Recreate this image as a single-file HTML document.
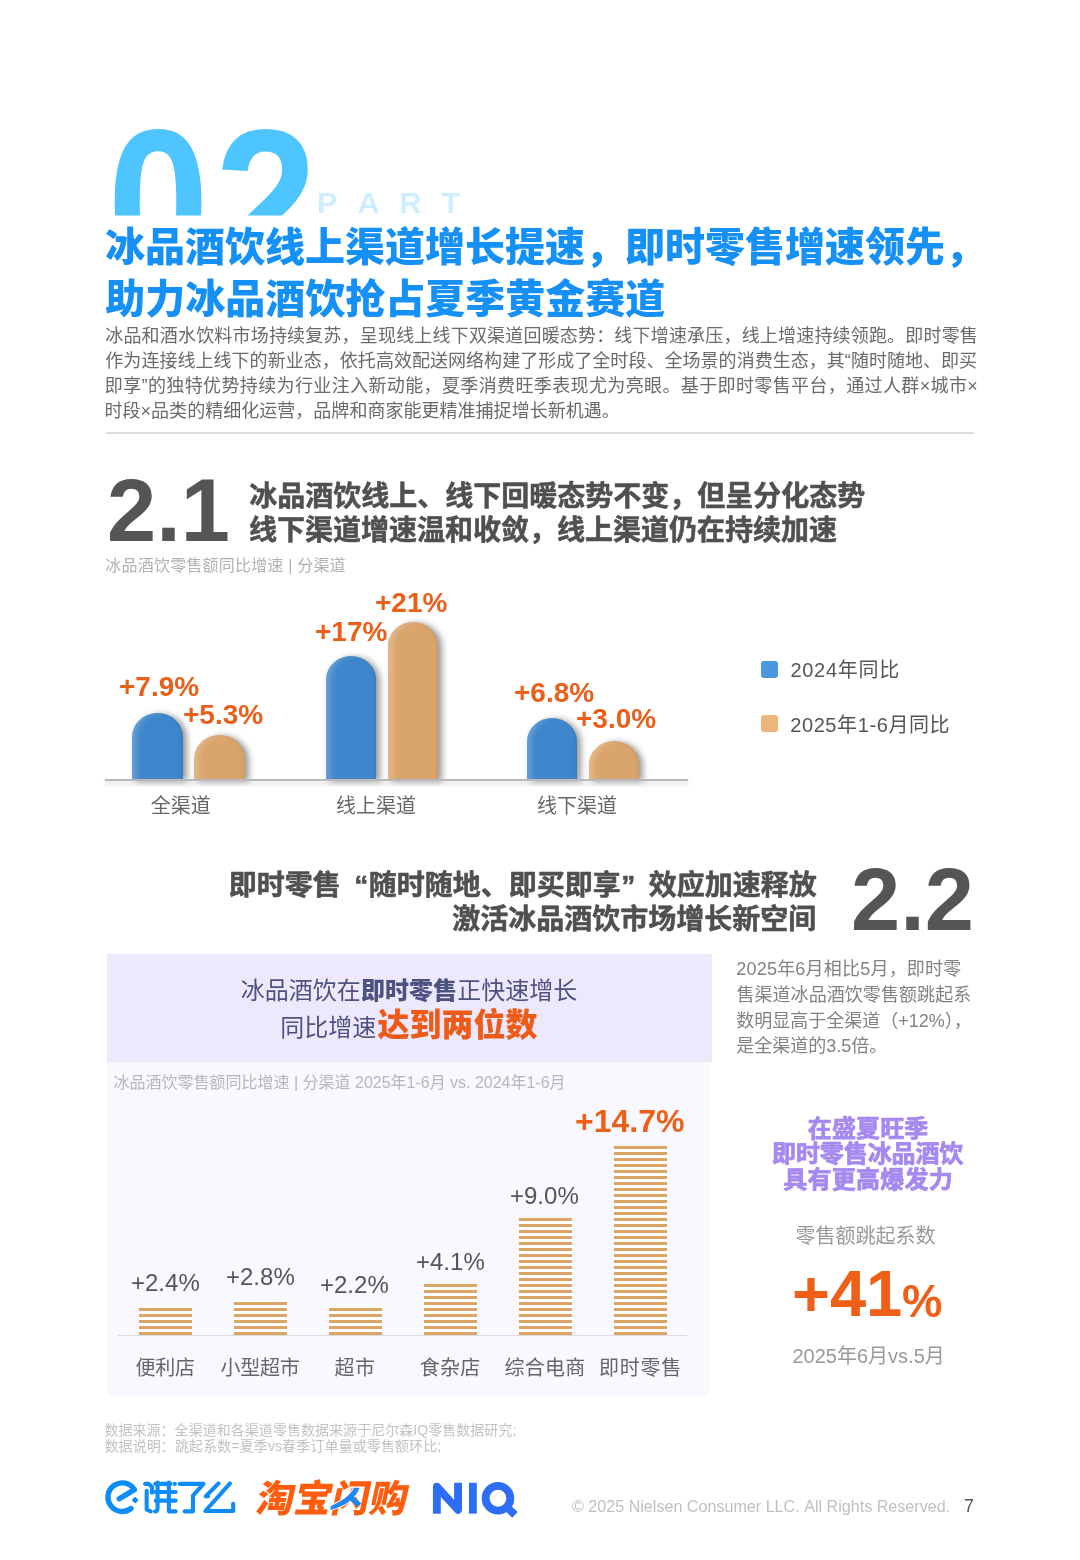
<!DOCTYPE html>
<html lang="zh-CN">
<head>
<meta charset="utf-8">
<title>PART 02 冰品酒饮线上渠道增长提速</title>
<style>
html,body{margin:0;padding:0;background:#fff}
body{width:1080px;height:1560px;position:relative;overflow:hidden;font-family:"Liberation Sans",sans-serif}
.bx{position:absolute}
.bar{border-radius:25.5px 25.5px 0 0/24px 24px 0 0;box-shadow:4px 1px 6px rgba(0,0,0,.4),inset 6px 0 6px -2px rgba(255,255,255,.24),inset -2px 0 3px rgba(0,0,0,.06)}
.b1{background:#3e86cb}
.b2{background:#daa56c}
.sb{background:repeating-linear-gradient(to top,#dca465 0,#dca465 2.7px,#fff 2.7px,#fff 6px)}
.t{position:absolute;white-space:nowrap;font-kerning:none;will-change:transform;font-family:"Liberation Sans",sans-serif;font-weight:400}
.t.b{font-weight:700}
.h{position:absolute;white-space:nowrap;overflow:hidden;color:transparent;line-height:1.2;font-family:"Liberation Sans",sans-serif}
#gl{position:absolute;left:0;top:0;width:1080px;height:1560px;overflow:visible}
#gl text{font-family:"Liberation Sans","Noto Sans CJK SC",sans-serif;font-weight:400}
</style>
</head>
<body>
<span class="h" style="left:112px;top:104px;font-size:190px;width:210px;height:112px;line-height:1">02</span>
<div class="bx" style="left:106px;top:432px;width:868px;height:1.5px;background:#dedede"></div>
<div class="bx bar b1" style="left:131.75px;top:712.5px;width:50.95px;height:67px;"></div>
<div class="bx bar b2" style="left:193.75px;top:735px;width:50.95px;height:44.5px;"></div>
<div class="bx bar b1" style="left:325.5px;top:655.5px;width:50.7px;height:124px;"></div>
<div class="bx bar b2" style="left:387.5px;top:622px;width:50.7px;height:157.5px;"></div>
<div class="bx bar b1" style="left:526.75px;top:718px;width:50.7px;height:61.5px;"></div>
<div class="bx bar b2" style="left:588.75px;top:740.75px;width:50.7px;height:38.75px;"></div>
<div class="bx" style="left:105px;top:778.5px;width:583px;height:2px;background:#b9b9b9;box-shadow:0 3px 4px rgba(0,0,0,.18)"></div>
<div class="bx" style="left:761px;top:661px;width:17px;height:17px;background:#4a97dc;border-radius:3px"></div>
<div class="bx" style="left:761px;top:715px;width:17px;height:17px;background:#edb47c;border-radius:3px"></div>
<div class="bx" style="left:106.75px;top:954.25px;width:605.25px;height:107.75px;background:#eee8fc"></div>
<div class="bx" style="left:106.75px;top:1062px;width:603.25px;height:334.25px;background:#f8f8fe"></div>
<div class="bx sb" style="left:138.75px;top:1304.5px;width:53px;height:30.1px;"></div>
<div class="bx sb" style="left:233.7px;top:1300px;width:53px;height:34.6px;"></div>
<div class="bx sb" style="left:328.65px;top:1307.3px;width:53px;height:27.3px;"></div>
<div class="bx sb" style="left:423.6px;top:1283.6px;width:53px;height:51px;"></div>
<div class="bx sb" style="left:518.55px;top:1218px;width:53px;height:116.6px;"></div>
<div class="bx sb" style="left:613.5px;top:1145.5px;width:53px;height:189.1px;"></div>
<div class="bx" style="left:118px;top:1334.6px;width:569px;height:1.2px;background:#dcdcdc"></div>
<span class="t b" style="left:317.37px;top:188.45px;font-size:30.3px;line-height:30.3px;color:#cdeeff;letter-spacing:20.2px;">PART</span>
<span class="t b" style="left:107.44px;top:466.77px;font-size:88.4px;line-height:88.4px;color:#555555;">2.1</span>
<span class="t b" style="left:118.82px;top:673.3px;font-size:28px;line-height:28px;color:#ea5f1a;">+7.9%</span>
<span class="t b" style="left:183.32px;top:701.3px;font-size:28px;line-height:28px;color:#ea5f1a;">+5.3%</span>
<span class="t b" style="left:315.07px;top:618.3px;font-size:28px;line-height:28px;color:#ea5f1a;">+17%</span>
<span class="t b" style="left:375.07px;top:588.8px;font-size:28px;line-height:28px;color:#ea5f1a;">+21%</span>
<span class="t b" style="left:513.82px;top:678.8px;font-size:28px;line-height:28px;color:#ea5f1a;">+6.8%</span>
<span class="t b" style="left:575.82px;top:705.05px;font-size:28px;line-height:28px;color:#ea5f1a;">+3.0%</span>
<span class="t b" style="left:850.64px;top:856.27px;font-size:88.4px;line-height:88.4px;color:#555555;">2.2</span>
<span class="t" style="left:130.83px;top:1270.93px;font-size:24px;line-height:24px;color:#555555;">+2.4%</span>
<span class="t" style="left:225.83px;top:1265.18px;font-size:24px;line-height:24px;color:#555555;">+2.8%</span>
<span class="t" style="left:320.23px;top:1272.98px;font-size:24px;line-height:24px;color:#555555;">+2.2%</span>
<span class="t" style="left:415.53px;top:1249.68px;font-size:24px;line-height:24px;color:#555555;">+4.1%</span>
<span class="t" style="left:509.83px;top:1184.08px;font-size:24px;line-height:24px;color:#555555;">+9.0%</span>
<span class="t b" style="left:574.66px;top:1104.71px;font-size:32px;line-height:32px;color:#ee5f17;">+14.7%</span>
<span class="t b" style="left:791.67px;top:1261.18px;font-size:65px;line-height:65px;color:#ee5f17;">+41</span>
<span class="t b" style="left:902.47px;top:1278.68px;font-size:45.5px;line-height:45.5px;color:#ee5f17;">%</span>
<span class="t" style="left:571.96px;top:1498.15px;font-size:16.12px;line-height:16.12px;color:#c0c0c0;">© 2025 Nielsen Consumer LLC. All Rights Reserved.</span>
<span class="t" style="left:964.48px;top:1496.56px;font-size:18px;line-height:18px;color:#555;">7</span>
<svg id="gl" viewBox="0 0 1080 1560" aria-hidden="true">
<defs><clipPath id="bc"><rect x="0" y="0" width="1080" height="215.5"/></clipPath></defs>
<g fill="#4ec5fe" clip-path="url(#bc)"><text transform="translate(107.62 272.76) scale(1 1.1301)" font-size="182.24" style="font-weight:700">0</text><text transform="translate(214.72 272.76) scale(1 1.1189)" font-size="184.08" style="font-weight:700">2</text></g>
<text x="105.04" y="261.4" font-size="40" fill="#1590f7" style="font-weight:900">冰品酒饮线上渠道增长提速，即时零售增速领先，</text>
<text x="105.24" y="312.6" font-size="40" fill="#1590f7" style="font-weight:900">助力冰品酒饮抢占夏季黄金赛道</text>
<text x="105.24" y="342.48" font-size="18" fill="#6a6a6a" textLength="872.6" lengthAdjust="spacing">冰品和酒水饮料市场持续复苏，呈现线上线下双渠道回暖态势：线下增速承压，线上增速持续领跑。即时零售</text>
<text x="105.32" y="367.48" font-size="18" fill="#6a6a6a" textLength="871.8" lengthAdjust="spacing">作为连接线上线下的新业态，依托高效配送网络构建了形成了全时段、全场景的消费生态，其“随时随地、即买</text>
<text x="104.78" y="392.48" font-size="18" fill="#6a6a6a" textLength="873" lengthAdjust="spacing">即享”的独特优势持续为行业注入新动能，夏季消费旺季表现尤为亮眼。基于即时零售平台，通过人群×城市×</text>
<text x="104.49" y="417.48" font-size="18" fill="#6a6a6a" textLength="515.3" lengthAdjust="spacing">时段×品类的精细化运营，品牌和商家能更精准捕捉增长新机遇。</text>
<g fill="#505050" stroke="#505050" stroke-width="0.55" stroke-linejoin="round" font-size="28" style="font-weight:700"><text x="249.16" y="505.88" style="font-weight:700">冰品酒饮线上、线下回暖态势不变，但呈分化态势</text>
<text x="248.99" y="539.58" style="font-weight:700">线下渠道增速温和收敛，线上渠道仍在持续加速</text></g>
<text x="105.33" y="570.76" font-size="16" fill="#b2b2b2" style="letter-spacing:0.2px">冰品酒饮零售额同比增速 | 分渠道</text>
<g fill="#666" font-size="20"><text x="150.69" y="813.2">全渠道</text>
<text x="336.02" y="813.2">线上渠道</text>
<text x="537.02" y="813.2">线下渠道</text></g>
<text x="790.45" y="677.2" font-size="20" fill="#555" style="letter-spacing:0.7px">2024年同比</text>
<text x="790.2" y="731.7" font-size="20" fill="#555" style="letter-spacing:0.6px">2025年1-6月同比</text>
<g fill="#505050" stroke="#505050" stroke-width="0.55" stroke-linejoin="round" font-size="28"><text x="228.77" y="895.33" style="font-weight:700">即时零售</text><text x="368.2" y="895.33" text-anchor="end" style="font-weight:700">“</text><text x="368.77" y="895.33" style="font-weight:700">随时随地、即买即享</text><text x="621.3" y="895.33" style="font-weight:700">”</text><text x="648.77" y="895.33" style="font-weight:700">效应加速释放</text>
<text x="452.36" y="929.08" style="font-weight:700">激活冰品酒饮市场增长新空间</text></g>
<g fill="#4e5280" font-size="24"><text x="240.74" y="999.39">冰品酒饮在</text>
<text x="360.91" y="999.39" style="font-weight:900">即时零售</text>
<text x="457.23" y="999.39">正快速增长</text>
<text x="280.34" y="1035.64">同比增速</text></g>
<text x="377.58" y="1036.12" font-size="32" fill="#ee5a18" style="font-weight:900">达到两位数</text>
<text x="113.58" y="1088.26" font-size="16" fill="#b8b8b8" textLength="452" lengthAdjust="spacing">冰品酒饮零售额同比增速 | 分渠道 2025年1-6月 vs. 2024年1-6月</text>
<g fill="#666" font-size="20"><text x="135.51" y="1375" style="letter-spacing:-0.3px">便利店</text>
<text x="220.57" y="1375" style="letter-spacing:-0.27px">小型超市</text>
<text x="334.42" y="1375" style="letter-spacing:0.58px">超市</text>
<text x="419.82" y="1375" style="letter-spacing:0.17px">食杂店</text>
<text x="504.58" y="1375" style="letter-spacing:0.21px">综合电商</text>
<text x="598.94" y="1375" style="letter-spacing:0.76px">即时零售</text></g>
<g fill="#828282" font-size="18"><text x="736.28" y="974.98" style="letter-spacing:0.21px">2025年6月相比5月，即时零</text>
<text x="736.39" y="1000.78" style="letter-spacing:0.07px">售渠道冰品酒饮零售额跳起系</text>
<text x="736.24" y="1026.68">数明显高于全渠道（+12%），</text>
<text x="736.33" y="1052.48">是全渠道的3.5倍。</text></g>
<g fill="#a588f0" stroke="#a588f0" stroke-width="0.75" stroke-linejoin="round" font-size="24"><text x="807.85" y="1136.94" style="font-weight:700;letter-spacing:0.1px">在盛夏旺季</text>
<text x="772.04" y="1162.44" style="font-weight:700;letter-spacing:-0.1px">即时零售冰品酒饮</text>
<text x="783.3" y="1188.04" style="font-weight:700;letter-spacing:0.26px">具有更高爆发力</text></g>
<text x="795.44" y="1242.9" font-size="20" fill="#999">零售额跳起系数</text>
<text x="792.5" y="1363.2" font-size="20" fill="#999">2025年6月vs.5月</text>
<text x="104.41" y="1434.94" font-size="14" fill="#c2c2c2" style="letter-spacing:0.04px">数据来源：全渠道和各渠道零售数据来源于尼尔森IQ零售数据研究;</text>
<text x="104.41" y="1450.94" font-size="14" fill="#c2c2c2" style="letter-spacing:0.11px">数据说明：跳起系数=夏季vs春季订单量或零售额环比;</text>
<g fill="none" stroke="#0e8cf7" stroke-width="5.4" stroke-linecap="round" stroke-linejoin="round"><path d="M119.3 1498.8L134.4 1489.6A14.3 14.3 0 1 0 131 1508.5"/></g>
<rect x="132.6" y="1497.6" width="5" height="5" rx="1.2" fill="#0e8cf7" transform="rotate(38 135.1 1500.1)"/>
<g transform="translate(140 1476) scale(0.0926)" fill="none" stroke="#0e8cf7" stroke-width="44" stroke-linecap="round" stroke-linejoin="round"><path d="M55 85H95L130 118V180"/><path d="M72 160V362L116 382"/><path d="M165 85H330"/><path d="M190 70V340Q190 384 162 384"/><path d="M312 70V382H385"/><path d="M165 172H385"/><path d="M170 266H385"/><path d="M376 84v2"/><path d="M428 85H686L572 212V382H482"/><path d="M848 80L710 218H736"/><path d="M972 80L706 378H1006V300"/></g>
<g fill="#ff5c0d" transform="translate(254.50 1512.00) skewX(-12) scale(0.07520)" font-size="500"><text x="0" y="0" style="font-weight:900">淘</text><text x="502" y="0" style="font-weight:900">宝</text><text x="1005" y="0" style="font-weight:900">闪</text><g transform="translate(1005 0)" fill="#1f86f2"><path stroke="#fff" stroke-width="26" paint-order="stroke" d="M250-322L322-322C312-200 200-78 2-28L-10-78C118-140 230-225 250-322Z"/><path fill="none" stroke="#1f86f2" stroke-width="62" d="M222-200L372-92"/></g><text x="1507" y="0" style="font-weight:900">购</text></g>
<g transform="translate(425 1474) scale(0.0926)" fill="none" stroke="#2d6ef5" stroke-width="85" stroke-linejoin="round"><path d="M128 428V138L357 388V95"/><path d="M517 95V428"/><circle cx="788" cy="262" r="133.5"/><path d="M872 348L972 442"/></g>
</svg>
<span class="h" style="left:105.04px;top:226.2px;font-size:40px;width:884px">冰品酒饮线上渠道增长提速，即时零售增速领先，</span>
<span class="h" style="left:105.24px;top:277.4px;font-size:40px;width:564px">助力冰品酒饮抢占夏季黄金赛道</span>
<span class="h" style="left:105.24px;top:326.64px;font-size:18px;width:876.57px">冰品和酒水饮料市场持续复苏，呈现线上线下双渠道回暖态势：线下增速承压，线上增速持续领跑。即时零售</span>
<span class="h" style="left:105.32px;top:351.64px;font-size:18px;width:875.84px">作为连接线上线下的新业态，依托高效配送网络构建了形成了全时段、全场景的消费生态，其“随时随地、即买</span>
<span class="h" style="left:104.78px;top:376.64px;font-size:18px;width:883.28px">即享”的独特优势持续为行业注入新动能，夏季消费旺季表现尤为亮眼。基于即时零售平台，通过人群×城市×</span>
<span class="h" style="left:104.49px;top:401.64px;font-size:18px;width:519.34px">时段×品类的精细化运营，品牌和商家能更精准捕捉增长新机遇。</span>
<span class="h" style="left:249.16px;top:481.24px;font-size:28px;width:620px">冰品酒饮线上、线下回暖态势不变，但呈分化态势</span>
<span class="h" style="left:248.99px;top:514.94px;font-size:28px;width:592px">线下渠道增速温和收敛，线上渠道仍在持续加速</span>
<span class="h" style="left:105.33px;top:556.68px;font-size:16px;width:242.31px">冰品酒饮零售额同比增速 | 分渠道</span>
<span class="h" style="left:150.69px;top:795.6px;font-size:20px;width:64px">全渠道</span>
<span class="h" style="left:336.02px;top:795.6px;font-size:20px;width:84px">线上渠道</span>
<span class="h" style="left:537.02px;top:795.6px;font-size:20px;width:84px">线下渠道</span>
<span class="h" style="left:790.45px;top:659.6px;font-size:20px;width:112.71px">2024年同比</span>
<span class="h" style="left:790.2px;top:714.1px;font-size:20px;width:163.71px">2025年1-6月同比</span>
<span class="h" style="left:228.77px;top:870.69px;font-size:28px;width:592px">即时零售“随时随地、即买即享”效应加速释放</span>
<span class="h" style="left:452.36px;top:904.44px;font-size:28px;width:368px">激活冰品酒饮市场增长新空间</span>
<span class="h" style="left:240.74px;top:978.27px;font-size:24px;width:124px">冰品酒饮在</span>
<span class="h" style="left:360.91px;top:978.27px;font-size:24px;width:100px">即时零售</span>
<span class="h" style="left:457.23px;top:978.27px;font-size:24px;width:124.09px">正快速增长</span>
<span class="h" style="left:280.34px;top:1014.52px;font-size:24px;width:100px">同比增速</span>
<span class="h" style="left:377.58px;top:1007.96px;font-size:32px;width:164px">达到两位数</span>
<span class="h" style="left:113.58px;top:1074.18px;font-size:16px;width:456.15px">冰品酒饮零售额同比增速 | 分渠道 2025年1-6月 vs. 2024年1-6月</span>
<span class="h" style="left:135.51px;top:1357.4px;font-size:20px;width:63.4px">便利店</span>
<span class="h" style="left:220.57px;top:1357.4px;font-size:20px;width:83.18px">小型超市</span>
<span class="h" style="left:334.42px;top:1357.4px;font-size:20px;width:44.58px">超市</span>
<span class="h" style="left:419.82px;top:1357.4px;font-size:20px;width:64.34px">食杂店</span>
<span class="h" style="left:504.58px;top:1357.4px;font-size:20px;width:84.64px">综合电商</span>
<span class="h" style="left:598.94px;top:1357.4px;font-size:20px;width:86.28px">即时零售</span>
<span class="h" style="left:736.28px;top:959.14px;font-size:18px;width:228.28px">2025年6月相比5月，即时零</span>
<span class="h" style="left:736.39px;top:984.94px;font-size:18px;width:238.8px">售渠道冰品酒饮零售额跳起系</span>
<span class="h" style="left:736.24px;top:1010.84px;font-size:18px;width:248.1px">数明显高于全渠道（+12%），</span>
<span class="h" style="left:736.33px;top:1036.64px;font-size:18px;width:154.61px">是全渠道的3.5倍。</span>
<span class="h" style="left:807.85px;top:1115.82px;font-size:24px;width:124.42px">在盛夏旺季</span>
<span class="h" style="left:772.04px;top:1141.32px;font-size:24px;width:195.3px">即时零售冰品酒饮</span>
<span class="h" style="left:783.3px;top:1166.92px;font-size:24px;width:173.59px">具有更高爆发力</span>
<span class="h" style="left:795.44px;top:1225.3px;font-size:20px;width:144.06px">零售额跳起系数</span>
<span class="h" style="left:792.5px;top:1345.6px;font-size:20px;width:154.46px">2025年6月vs.5月</span>
<span class="h" style="left:104.41px;top:1422.62px;font-size:14px;width:415.39px">数据来源：全渠道和各渠道零售数据来源于尼尔森IQ零售数据研究;</span>
<span class="h" style="left:104.41px;top:1438.62px;font-size:14px;width:339.89px">数据说明：跳起系数=夏季vs春季订单量或零售额环比;</span>
<span class="h" style="left:105px;top:1480px;font-size:34px;width:132px;height:36px;line-height:1">饿了么</span>
<span class="h" style="left:257px;top:1480px;font-size:34px;width:154px;height:36px;line-height:1">淘宝闪购</span>
<span class="h" style="left:433px;top:1480px;font-size:34px;width:86px;height:36px;line-height:1">NIQ</span>
</body>
</html>
